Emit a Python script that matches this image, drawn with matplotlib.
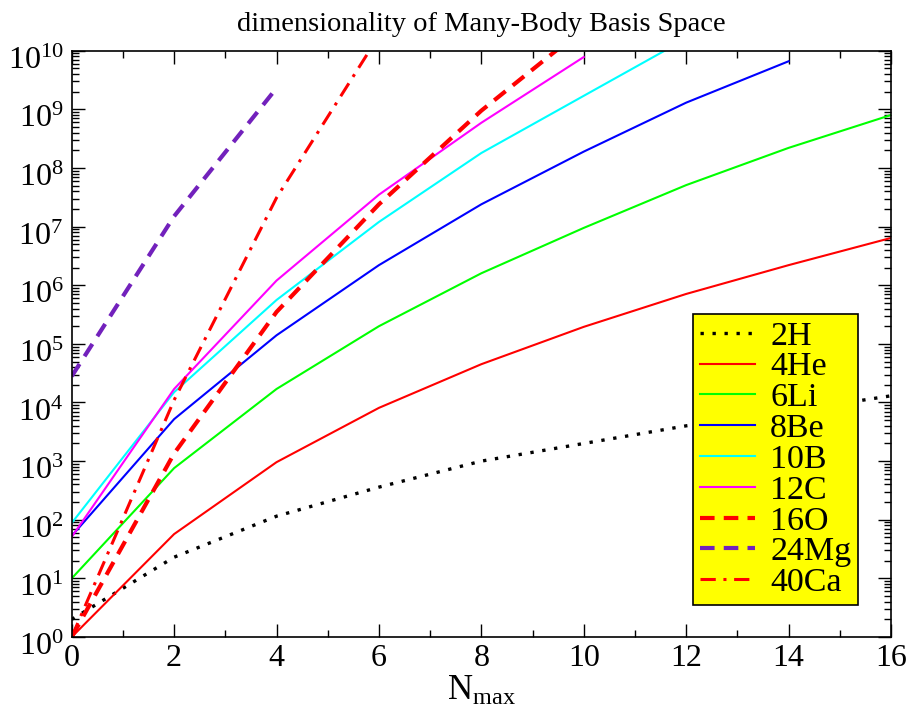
import numpy as np
import matplotlib
matplotlib.use('Agg')
import matplotlib.pyplot as plt
import matplotlib.transforms as mtransforms
from matplotlib.ticker import FixedLocator, MultipleLocator, LogFormatterSciNotation, NullFormatter

plt.rcParams['font.family'] = ['Liberation Serif', 'DejaVu Serif']
plt.rcParams['mathtext.fontset'] = 'custom'
plt.rcParams['mathtext.rm'] = 'Liberation Serif'
plt.rcParams['mathtext.it'] = 'Liberation Serif:italic'

# Nmax values
nmax_all = [0, 2, 4, 6, 8, 10, 12, 14, 16]

# dimensions
dim_2H = [2, 23, 115, 360, 1000, 2000, 4000, 7000, 13000]
dim_4He = [1, 57, 960, 8100, 45000, 1.95e5, 7.1e5, 2.2e6, 6.4e6]
dim_6Li = [10, 760, 1.7e4, 2.0e5, 1.6e6, 9.5e6, 5.1e7, 2.2e8, 8.0e8]
dim_8Be = [53, 5200, 1.4e5, 2.2e6, 2.4e7, 1.9e8, 1.3e9, 6.6e9]
dim_10B = [88, 1.5e4, 5.6e5, 1.2e7, 1.8e8, 1.7e9, 1.6e10]
dim_12C = [51, 1.7e4, 1.2e6, 3.5e7, 5.9e8, 7.8e9]
dim_16O = [1, 1350, 3.5e5, 2.4e7, 9.5e8, 2.4e10]
dim_24Mg = [2.8e4, 1.5e7, 2.3e9]
dim_40Ca = [1, 1.1e4, 3.1e7, 1.8e10]

series = [
    ('2H', dim_2H, 'black', (0, (1, 2.6)), 2.4),
    ('4He', dim_4He, '#ff0000', '-', 1.5),
    ('6Li', dim_6Li, '#00ff00', '-', 1.5),
    ('8Be', dim_8Be, '#0000ff', '-', 1.5),
    ('10B', dim_10B, '#00ffff', '-', 1.5),
    ('12C', dim_12C, '#ff00ff', '-', 1.5),
    ('16O', dim_16O, '#ff0000', (0, (3.5, 2.2)), 3.0),
    ('24Mg', dim_24Mg, '#7221bc', (0, (3.5, 2.2)), 3.0),
    ('40Ca', dim_40Ca, '#ff0000', (0, (5, 2.5, 1, 2.5)), 2.2),
]

fig = plt.figure(figsize=(9.1, 7.12), dpi=100)
ax = fig.add_axes([0.0788, 0.1053, 0.9003, 0.8235])

for name, vals, col, ls, lw in series:
    ax.plot(nmax_all[:len(vals)], vals, color=col, linestyle=ls, linewidth=lw, label=name)

ax.set_yscale('log')
ax.set_xlim(0, 16)
ax.set_ylim(1, 1e10)

decades = 10.0 ** np.arange(0, 11)
minors = [m * d for d in decades[:-1] for m in range(2, 10)]
ax.xaxis.set_major_locator(MultipleLocator(2))
ax.xaxis.set_minor_locator(MultipleLocator(1))
ax.yaxis.set_major_locator(FixedLocator(decades))
ax.yaxis.set_minor_locator(FixedLocator(minors))
ax.yaxis.set_major_formatter(LogFormatterSciNotation())
ax.yaxis.set_minor_formatter(NullFormatter())

ax.tick_params(which='both', direction='in', top=True, right=True, width=1.0)
ax.tick_params(which='major', length=9.5)
ax.tick_params(which='minor', length=5)
ax.tick_params(axis='x', which='major', labelsize=23, pad=5)
ax.tick_params(axis='y', which='major', labelsize=23, pad=6)
for sp in ax.spines.values():
    sp.set_linewidth(1.2)

ax.set_title('dimensionality of Many-Body Basis Space', fontsize=20.5, pad=14)
ax.set_xlabel(r'N$_{\mathrm{max}}$', fontsize=25, labelpad=1)

leg = ax.legend(loc='lower right', bbox_to_anchor=(0.9597, 0.0546), fontsize=24.5,
                frameon=True, fancybox=False, shadow=False, handlelength=1.6,
                handletextpad=0.45, labelspacing=0.0, borderpad=0.2, borderaxespad=0)
leg.get_frame().set_facecolor('#ffff00')
leg.get_frame().set_edgecolor('black')
leg.get_frame().set_linewidth(1.2)
leg.get_frame().set_alpha(1)

# y labels sit a bit below their ticks in the original
shift = mtransforms.ScaledTranslation(0, -5 / 72, fig.dpi_scale_trans)
for t in ax.yaxis.get_major_ticks():
    t.label1.set_transform(t.label1.get_transform() + shift)

fig.savefig('out.png', dpi=100)
